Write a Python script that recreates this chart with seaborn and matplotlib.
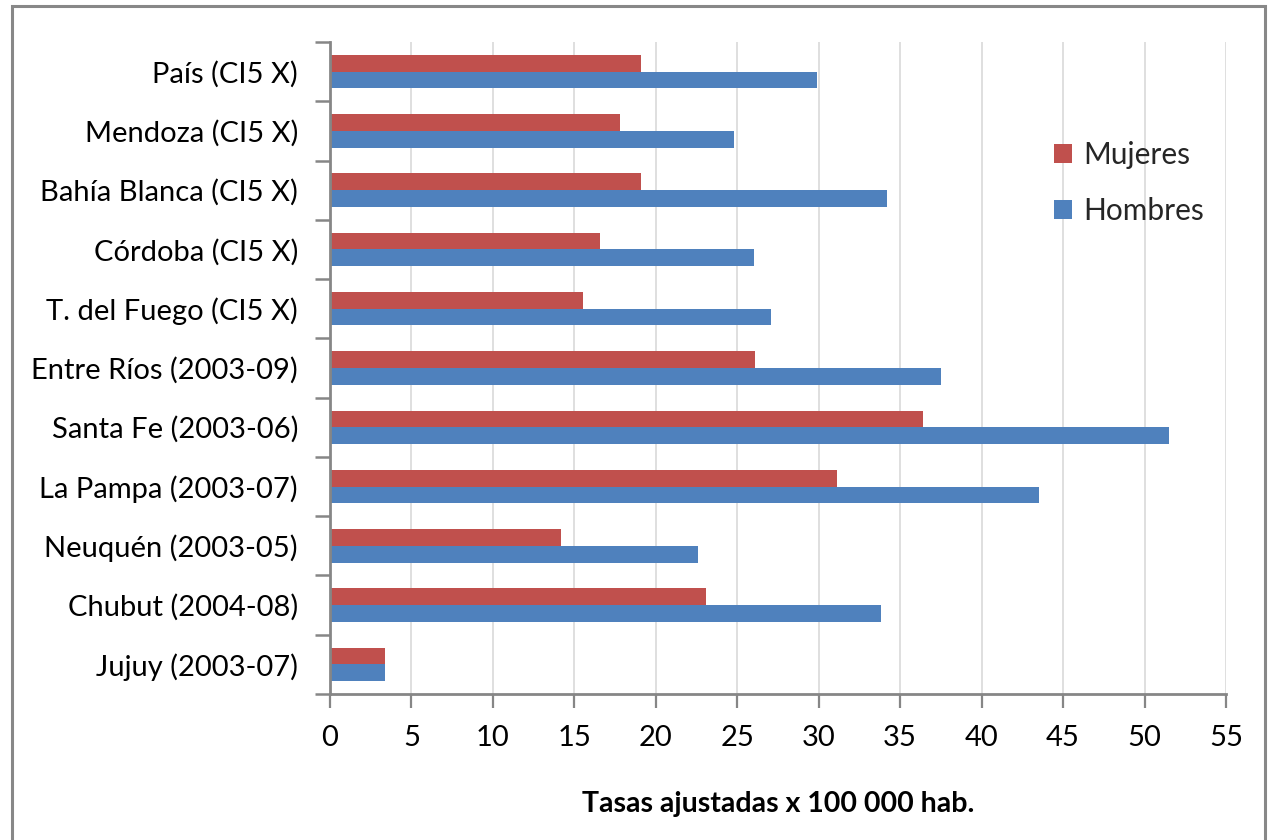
import matplotlib
matplotlib.use("Agg")
import matplotlib.pyplot as plt
from matplotlib.patches import Patch, Rectangle
import numpy as np
import pandas as pd
import seaborn as sns

# Cancer incidence, age-adjusted rates per 100 000 inhabitants
regiones = [
    "País (CI5 X)",
    "Mendoza (CI5 X)",
    "Bahía Blanca (CI5 X)",
    "Córdoba (CI5 X)",
    "T. del Fuego (CI5 X)",
    "Entre Ríos (2003-09)",
    "Santa Fe (2003-06)",
    "La Pampa (2003-07)",
    "Neuquén (2003-05)",
    "Chubut (2004-08)",
    "Jujuy (2003-07)",
]
mujeres = [19.1, 17.8, 19.1, 16.6, 15.5, 26.1, 36.4, 31.1, 14.2, 23.1, 3.4]
hombres = [29.9, 24.8, 34.2, 26.0, 27.1, 37.5, 51.5, 43.5, 22.6, 33.8, 3.35]
series = ["Mujeres", "Hombres"]
colores = {"Mujeres": "#C0504D", "Hombres": "#4F81BD"}
x_ticks = list(range(0, 56, 5))

df = pd.DataFrame({
    "region": regiones * 2,
    "sexo": ["Mujeres"] * len(regiones) + ["Hombres"] * len(regiones),
    "tasa": mujeres + hombres,
})

sns.set_theme(style="white")
plt.rcParams["font.family"] = ["Lato", "DejaVu Sans"]

fig = plt.figure(figsize=(12.68, 8.4), dpi=100)
ax = fig.add_axes([330 / 1268, 1 - 694 / 840, 896 / 1268, 652 / 840])

sns.barplot(data=df, y="region", x="tasa", hue="sexo", order=regiones,
            hue_order=series, palette=colores, orient="h", width=0.563,
            gap=0, linewidth=0, saturation=1, legend=False, ax=ax, zorder=3)

ax.set_xlim(0, 55)
ax.set_ylim(len(regiones) - 0.5, -0.5)
ax.set_xticks(x_ticks)
ax.set_xticklabels([str(v) for v in x_ticks])
ax.grid(axis="x", color="#d9d9d9", linewidth=1.2, zorder=0)
ax.grid(axis="y", visible=False)

# Category boundaries carry the tick marks, labels sit at the centers
ax.set_yticks(np.arange(len(regiones)))
ax.set_yticklabels(regiones)
ax.set_yticks(np.arange(-0.5, len(regiones)), minor=True)
ax.tick_params(axis="y", which="major", length=0, pad=23, labelsize=21,
               colors="#000000")
ax.tick_params(axis="y", which="minor", left=True, length=11, width=1.8,
               color="#868686")
ax.tick_params(axis="x", which="major", bottom=True, length=10, width=1.6,
               color="#868686", pad=12, labelsize=21, labelcolor="#000000")

for side in ("top", "right"):
    ax.spines[side].set_visible(False)
for side in ("left", "bottom"):
    ax.spines[side].set_color("#868686")
    ax.spines[side].set_linewidth(2.0)
    ax.spines[side].set_zorder(4)

ax.set_ylabel("")
ax.set_xlabel("Tasas ajustadas x 100 000 hab.", fontsize=20.5, fontweight="bold",
              labelpad=29, color="#000000")

handles = [Patch(facecolor=colores[s], edgecolor="none", label=s) for s in series]
fig.legend(handles=handles, loc="upper left",
           bbox_to_anchor=(1027 / 1268, 1 - 114 / 840), frameon=False,
           fontsize=21.5, handlelength=0.6, handleheight=0.6,
           handletextpad=0.4, labelspacing=0.95)

# Outer chart frame
fig.patches.append(Rectangle((12 / 1268, -0.02), 1253 / 1268, 1 - 6 / 840 + 0.02,
                             transform=fig.transFigure, fill=False,
                             edgecolor="#888888", linewidth=2.2, zorder=10))

fig.savefig("out.png", dpi=100)
